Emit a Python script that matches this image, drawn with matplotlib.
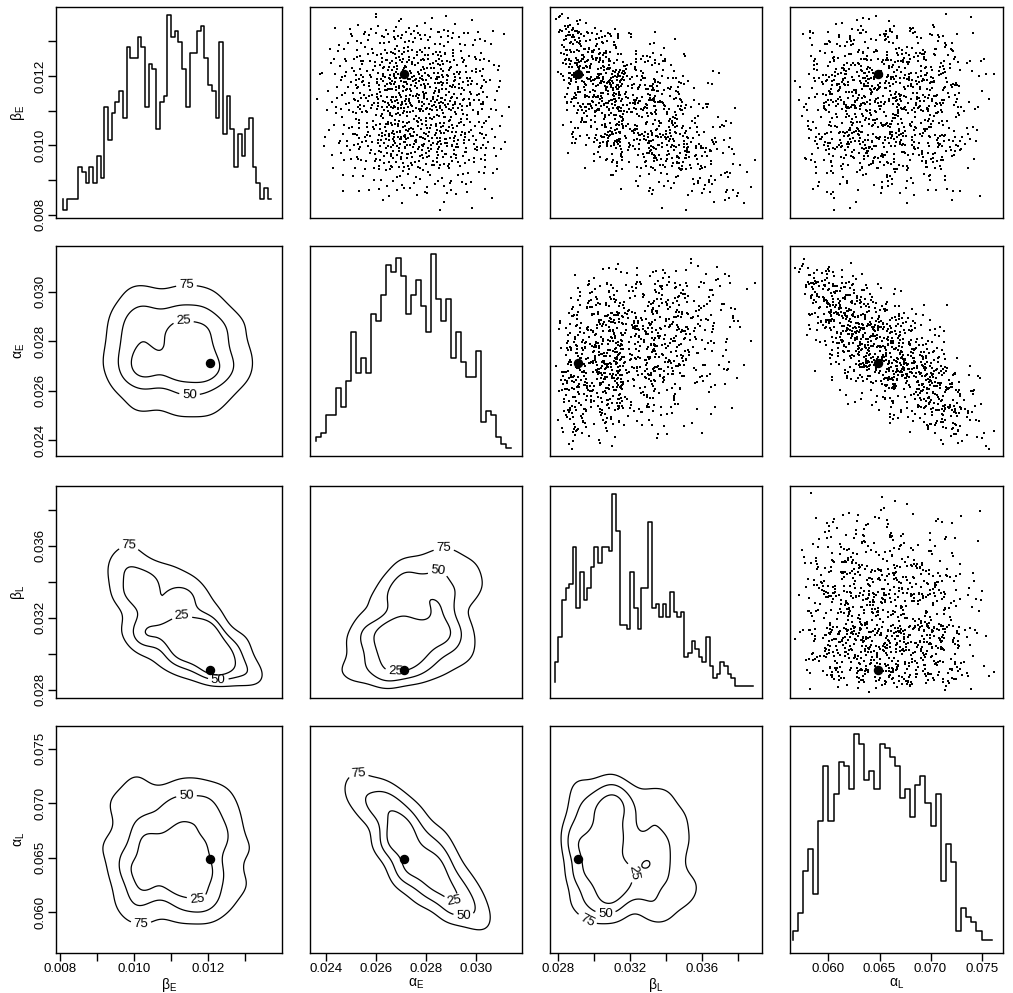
# Pairs plot of the posterior sample: histograms on the diagonal,
# scatter above, 25/50/75 % density contours below

import numpy as np
import matplotlib
matplotlib.use("Agg")
import matplotlib.pyplot as plt

plt.rcParams['font.family'] = ['Liberation Sans', 'DejaVu Sans']
plt.rcParams['mathtext.fontset'] = 'custom'
plt.rcParams['mathtext.rm'] = 'Liberation Sans'
plt.rcParams['mathtext.it'] = 'Liberation Sans:italic'

# parameters, in panel order
names = [r'$\mathrm{\beta_E}$', r'$\mathrm{\alpha_E}$', r'$\mathrm{\beta_L}$', r'$\mathrm{\alpha_L}$']

# histogram step levels (counts)
beta_E_counts = [2, 0, 2, 2, 2, 8, 7, 5, 8, 5, 10, 6, 19, 13, 18, 20, 22, 17, 30, 28, 28,
                 32, 30, 19, 27, 26, 15, 20, 21, 36, 32, 33, 31, 26, 19, 29, 29, 33, 34,
                 28, 23, 22, 17, 31, 14, 21, 15, 8, 14, 10, 15, 17, 8, 5, 2, 4, 2]
alpha_E_counts = [2, 3, 4, 9, 9, 16, 11, 18, 31, 20, 24, 20, 36, 34, 41, 49, 47, 51, 46,
                  36, 41, 45, 38, 31, 52, 40, 34, 40, 24, 31, 23, 19, 19, 26, 7, 10, 9,
                  3, 1, 0]
beta_L_counts = [2, 7, 13, 22, 25, 26, 35, 20, 29, 22, 25, 30, 35, 31, 35, 35, 34, 48, 39,
                 16, 16, 15, 29, 20, 15, 25, 25, 41, 20, 21, 18, 21, 18, 24, 19, 18, 19,
                 8, 9, 12, 10, 8, 7, 13, 6, 3, 4, 7, 6, 4, 3, 1, 1, 1, 1, 1]
alpha_L_counts = [1, 3, 7, 16, 21, 11, 27, 39, 27, 33, 40, 39, 34, 46, 44, 36, 38, 34, 44,
                  43, 41, 39, 32, 34, 28, 35, 37, 31, 26, 33, 14, 22, 18, 3, 8, 6, 5, 3,
                  1, 1]
counts = [beta_E_counts, alpha_E_counts, beta_L_counts, alpha_L_counts]
bin_start = [0.0081, 0.0236, 0.0278, 0.0565]
bin_width = [0.0001, 0.0002, 0.0002, 0.0005]

# axis ranges and ticks
lims = [(0.0079, 0.01399), (0.02336, 0.03184), (0.02753, 0.03931), (0.05623, 0.07710)]
ticks = [[0.008, 0.009, 0.010, 0.011, 0.012, 0.013],
         [0.024, 0.026, 0.028, 0.030],
         [0.028, 0.030, 0.032, 0.034, 0.036, 0.038],
         [0.060, 0.065, 0.070, 0.075]]
tick_labels = [['0.008', '', '0.010', '', '0.012', ''],
               ['0.024', '0.026', '0.028', '0.030'],
               ['0.028', '', '0.032', '', '0.036', ''],
               ['0.060', '0.065', '0.070', '0.075']]

# best-fit point (big dot) and correlations seen in the scatter panels
best = [0.01205, 0.0271, 0.0291, 0.0649]
corr = np.array([[1.00, -0.05, -0.60, 0.00],
                 [-0.05, 1.00, 0.30, -0.75],
                 [-0.60, 0.30, 1.00, -0.10],
                 [0.00, -0.75, -0.10, 1.00]])
n_sample = 1000

# where each contour label sits on its line (levels 75, 50, 25)
label_side = {(1, 0): ('top', 'bottom', 'top'),
              (2, 0): ('top', 'bottom', 'top'),
              (2, 1): ('top', 'top', 'bottom'),
              (3, 0): ('bottom', 'top', 'bottom'),
              (3, 1): ('top', 'bottom', 'bottom'),
              (3, 2): ('bottomleft', 'bottom', 'right')}


# the 1000 points cannot be read one by one: rebuild a sample whose marginals are the
# read histograms and whose dependence follows the read correlations (deterministic)
def halton(n, base):
    out = np.empty(n)
    for i in range(n):
        f, r, k = 1.0, 0.0, i + 1
        while k > 0:
            f /= base
            r += f * (k % base)
            k //= base
        out[i] = r
    return out


u = [halton(n_sample, b) for b in (2, 3, 5, 7)]
rad1 = np.sqrt(-2 * np.log(u[0]))
rad2 = np.sqrt(-2 * np.log(u[2]))
latent = np.column_stack([rad1 * np.cos(2 * np.pi * u[1]), rad1 * np.sin(2 * np.pi * u[1]),
                          rad2 * np.cos(2 * np.pi * u[3]), rad2 * np.sin(2 * np.pi * u[3])])
latent = latent @ np.linalg.cholesky(corr).T

sample = np.empty((n_sample, 4))
for k in range(4):
    c = np.array(counts[k], dtype=float)
    edges = bin_start[k] + bin_width[k] * np.arange(len(c) + 1)
    cdf = np.concatenate([[0], np.cumsum(c)]) / c.sum()
    ranks = np.argsort(np.argsort(latent[:, k]))
    sample[:, k] = np.interp((ranks + 0.5) / n_sample, cdf, edges)


def data_range(k):
    lo, hi = lims[k]
    mid, half = (lo + hi) / 2, (hi - lo) / 2 / 1.08
    return mid - half, mid + half


def label_spot(seg, side, xlim, ylim):
    nx = (seg[:, 0] - xlim[0]) / (xlim[1] - xlim[0])
    ny = (seg[:, 1] - ylim[0]) / (ylim[1] - ylim[0])
    score = {'top': ny, 'bottom': -ny, 'right': nx, 'left': -nx,
             'bottomleft': -(nx + 2 * ny)}[side]
    k = np.argmax(score)
    return seg[k, 0], seg[k, 1]


def hpd_contour(ax, x, y, xlim, ylim, sides):
    sx, sy = 0.27 * x.std(), 0.27 * y.std()
    gx = np.linspace(xlim[0], xlim[1], 150)
    gy = np.linspace(ylim[0], ylim[1], 150)
    kx = np.exp(-0.5 * ((gx[:, None] - x[None, :]) / sx) ** 2)
    ky = np.exp(-0.5 * ((gy[:, None] - y[None, :]) / sy) ** 2)
    dens = ky @ kx.T
    px = np.exp(-0.5 * ((x[:, None] - x[None, :]) / sx) ** 2)
    py = np.exp(-0.5 * ((y[:, None] - y[None, :]) / sy) ** 2)
    dp = (px * py).sum(axis=1)
    lev = np.quantile(dp, [0.25, 0.50, 0.75])
    cs = ax.contour(gx, gy, dens, levels=lev, colors='k', linewidths=0.9)
    spots = [label_spot(max(segs, key=len), side, xlim, ylim)
             for segs, side in zip(cs.allsegs, sides)]
    ax.clabel(cs, fmt=dict(zip(cs.levels, ['75', '50', '25'])), fontsize=9.5,
              inline=True, inline_spacing=3, manual=spots)


W, H = 1013, 993
col_px = [(56, 282), (310, 522), (550, 762), (790, 1003)]
row_px = [(7, 218), (246, 456), (486, 698), (726, 953)]

fig = plt.figure(figsize=(W / 100, H / 100), dpi=100)

for i in range(4):
    for j in range(4):
        x0, x1 = col_px[j]
        y0, y1 = row_px[i]
        ax = fig.add_axes([x0 / W, 1 - y1 / H, (x1 - x0) / W, (y1 - y0) / H])
        ax.set_xlim(lims[j])
        ax.set_ylim(lims[i])
        for sp in ax.spines.values():
            sp.set_linewidth(1.0)

        if i == j:
            lo, hi = data_range(i)
            c = np.array(counts[i], dtype=float)
            xs = bin_start[i] + bin_width[i] * np.arange(len(c))
            ax.plot(xs, lo + c / c.max() * (hi - lo), color='k', lw=1.1,
                    drawstyle='steps-pre')
        elif i < j:
            ax.plot(sample[:, j], sample[:, i], 's', ms=1.6, mew=0, color='k')
            ax.plot(best[j], best[i], 'o', ms=5.8, color='k')
        else:
            hpd_contour(ax, sample[:, j], sample[:, i], lims[j], lims[i], label_side[(i, j)])
            ax.plot(best[j], best[i], 'o', ms=5.8, color='k')

        ax.tick_params(direction='out', length=5.5, width=1.0, labelsize=9.5, pad=1.5)
        if j == 0:
            ax.set_yticks(ticks[i])
            ax.set_yticklabels(tick_labels[i], rotation=90, va='center')
            ax.set_ylabel(names[i], fontsize=10, labelpad=5)
        else:
            ax.set_yticks([])
        if i == 3:
            ax.set_xticks(ticks[j])
            ax.set_xticklabels(tick_labels[j])
            ax.set_xlabel(names[j], fontsize=10, labelpad=1)
        else:
            ax.set_xticks([])

fig.savefig('out.png', dpi=100)
